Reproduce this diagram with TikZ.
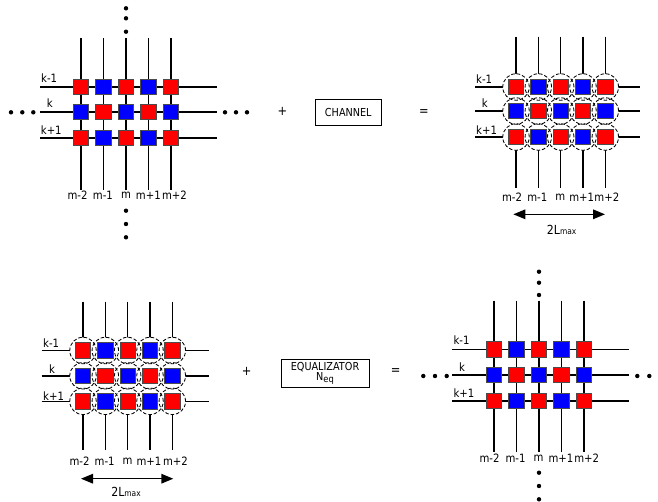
\documentclass[tikz,border=0pt]{standalone}
\usepackage{fontspec}
\setmainfont{DejaVu Sans}[FakeStretch=0.88]
\usetikzlibrary{arrows.meta}
\newcommand\gridblock[8]{%
  \foreach [count=\ci] \x in {#2} {
    \coordinate (#1-t\ci) at (\x,#4);
    \coordinate (#1-b\ci) at (\x,#5);
    \draw[gl] (#1-t\ci) -- (#1-b\ci);
  }
  \foreach [count=\ri] \y in {#3} {
    \coordinate (#1-l\ri) at (#6,\y);
    \coordinate (#1-r\ri) at (#7,\y);
    \draw[hl] (#1-l\ri) -- (#1-r\ri);
  }
  \ifnum#8=1
    \foreach [count=\ri] \y in {#3} {
      \foreach [count=\ci] \x in {#2} {
        \node[ringfill] (#1-f\ri-\ci) at (\x,\y) {};
      }
    }
    \foreach [count=\ri] \y in {#3} {
      \foreach [count=\ci] \x in {#2} {
        \node[ringline] (#1-o\ri-\ci) at (\x,\y) {};
      }
    }
  \fi
  \foreach [count=\ri] \y in {#3} {
    \foreach [count=\ci] \x in {#2} {
      \pgfmathtruncatemacro\pp{mod(\ri+\ci,2)}
      \ifnum\pp=0 \def\cc{red}\else\def\cc{blue}\fi
      \node[sq, fill=\cc] (#1-\ri-\ci) at (\x,\y) {};
    }
  }
}
\newcommand\collabels[3]{%
  \foreach [count=\ci] \x/\t in {#2} {
    \node[lbl] (#1-m\ci) at (\x,#3) {\t};
  }
}
\begin{document}
\begin{tikzpicture}[x=1pt,y=-1pt,
  sq/.style={draw=black!70, line width=0.9pt, minimum size=15.5pt, inner sep=0pt},
  ring/.style={circle, minimum size=26.5pt, inner sep=0pt},
  ringline/.style={ring, draw=black, line width=0.85pt, dash pattern=on 3.5pt off 2pt},
  ringfill/.style={ring, fill=white},
  gl/.style={line width=1.3pt},
  hl/.style={line width=1.6pt},
  lbl/.style={inner sep=0pt, font=\fontsize{11.5}{13}\selectfont},
  rowlbl/.style={lbl, anchor=west},
  dot/.style={circle, fill=black, minimum size=4.4pt, inner sep=0pt},
  box/.style={draw=black, line width=0.9pt, inner sep=0pt, font=\fontsize{11}{12}\selectfont, align=center},
  dbl/.style={line width=1.5pt, {Triangle[length=12pt,width=9.5pt]}-{Triangle[length=12pt,width=9.5pt]}},
  op/.style={font=\fontsize{13}{13}\selectfont, inner sep=0pt},
  sub/.style={font=\fontsize{12.5}{13}\selectfont, inner sep=0pt},
]
\useasboundingbox (0,0) rectangle (658,501);
\fill[white] (0,0) rectangle (658,501);

% ---------- grid 1 (top left) ----------
\gridblock{ga}{81,103.5,126,148.5,171}{87,112,138}{38.3}{190}{40}{216.7}{0}
\node[rowlbl] (ga-k1) at (41,77.7) {k-1};
\node[rowlbl] (ga-k2) at (46.7,103.3) {k};
\node[rowlbl] (ga-k3) at (40.7,130) {k+1};
\collabels{ga}{77.5/m-2,102.9/m-1,126/m,148.3/m+1,174.4/m+2}{195}
\foreach [count=\i] \y in {8.3,18.3,31.7} \node[dot] (ga-dt\i) at (126,\y) {};
\foreach [count=\i] \y in {210.7,224,237.3} \node[dot] (ga-db\i) at (126,\y) {};
\foreach [count=\i] \x in {11,22.3,33.3} \node[dot] (ga-dl\i) at (\x,112.3) {};
\foreach [count=\i] \x in {225,236,247} \node[dot] (ga-dr\i) at (\x,112.3) {};

\node[op] (plus1) at (282.3,111.7) {+};
\node[box, minimum width=65.3pt, minimum height=26pt] (channel) at (348.3,112) {CHANNEL};
\node[op] (eq1) at (424,113) {=};

% ---------- grid 2 (top right) ----------
\gridblock{gb}{516,538.3,560.7,583,605.3}{87,111,137}{36.7}{188}{475}{640}{1}
\node[rowlbl] (gb-k1) at (476,79.3) {k-1};
\node[rowlbl] (gb-k2) at (481.7,103) {k};
\node[rowlbl] (gb-k3) at (476,130) {k+1};
\collabels{gb}{512/m-2,537.3/m-1,560.3/m,581.7/m+1,606.8/m+2}{197.5}
\coordinate (gb-a1) at (513.3,214.3);
\coordinate (gb-a2) at (605,214.3);
\draw[dbl] (gb-a1) -- (gb-a2);
\node[sub] (gb-L) at (561.7,230) {2L{\fontsize{8.5}{9}\selectfont max}};

% ---------- grid 3 (bottom left) ----------
\gridblock{gc}{83,105.3,127.7,150,172.3}{350.5,375.8,401.3}{301.7}{450}{41.7}{209.3}{1}
\node[rowlbl] (gc-k1) at (43,342.7) {k-1};
\node[rowlbl] (gc-k2) at (49,369.3) {k};
\node[rowlbl] (gc-k3) at (43,396) {k+1};
\collabels{gc}{79.5/m-2,104.7/m-1,127.5/m,148.9/m+1,175.4/m+2}{461}
\coordinate (gc-a1) at (81,478.7);
\coordinate (gc-a2) at (173.3,478.7);
\draw[dbl] (gc-a1) -- (gc-a2);
\node[sub] (gc-L) at (126,491.7) {2L{\fontsize{8.5}{9}\selectfont max}};

\node[op] (plus2) at (246.7,371.7) {+};
\node[box, minimum width=88pt, minimum height=28.7pt] (equal) at (325,373.3)
  {EQUALIZATOR\\[-1.5pt]N\raisebox{-0.35ex}{\fontsize{9.5}{10}\selectfont eq}};
\node[op] (eq2) at (395.7,372) {=};

% ---------- grid 4 (bottom right) ----------
\gridblock{gd}{494,516.5,539,561.5,584}{349.5,375,401}{300.7}{451.7}{452.3}{629.3}{0}
\node[rowlbl] (gd-k1) at (453.3,340) {k-1};
\node[rowlbl] (gd-k2) at (459,366.7) {k};
\node[rowlbl] (gd-k3) at (453.3,393.3) {k+1};
\collabels{gd}{489.5/m-2,515.6/m-1,538.5/m,561/m+1,586.7/m+2}{458.3}
\foreach [count=\i] \y in {271.7,282.7,295} \node[dot] (gd-dt\i) at (539,\y) {};
\foreach [count=\i] \y in {472.7,486,499.3} \node[dot] (gd-db\i) at (539,\y) {};
\foreach [count=\i] \x in {423.3,435,446.7} \node[dot] (gd-dl\i) at (\x,376) {};
\foreach [count=\i] \x in {637.3,649.3} \node[dot] (gd-dr\i) at (\x,376) {};
\end{tikzpicture}
\end{document}
